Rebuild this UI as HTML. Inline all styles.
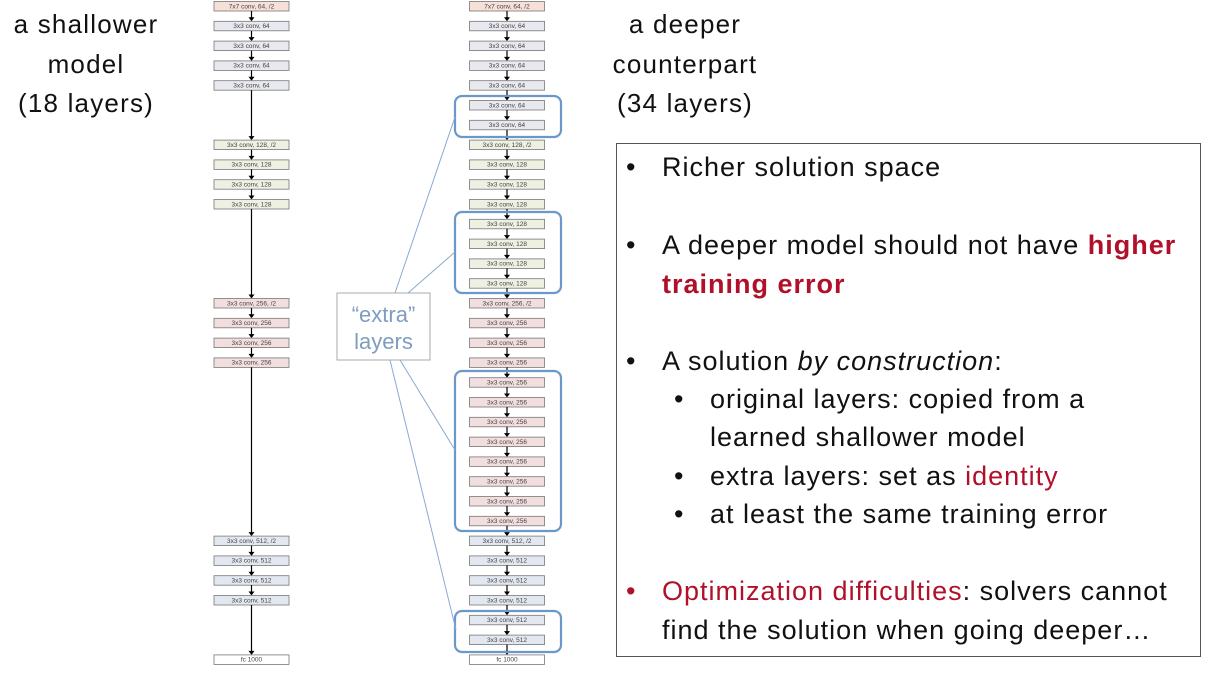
<!DOCTYPE html>
<html><head><meta charset="utf-8"><style>
body{margin:0;width:1226px;height:676px;background:#fff;overflow:hidden;position:relative;font-family:"Liberation Sans",sans-serif}
.t{position:absolute;font-size:26px;color:#111;white-space:nowrap;text-align:center;letter-spacing:1.2px}
.b{position:absolute;left:616px;top:143px;width:585px;height:514px;border:1px solid #555;box-sizing:border-box}
.l{position:absolute;font-size:27px;letter-spacing:1px;color:#111;white-space:nowrap;line-height:30px}
.red{color:#b0102a}
</style></head><body>
<div class="t" style="left:0;width:172px;top:5px;line-height:39.5px">a shallower<br>model<br>(18 layers)</div>
<div class="t" style="left:590px;width:190px;top:5px;line-height:39.5px">a deeper<br>counterpart<br>(34 layers)</div>
<svg width="1226" height="676" style="position:absolute;left:0;top:0" id="s"></svg>
<div class="b"></div>
<div class="l" style="left:626px;top:152px">•</div><div class="l" style="left:662px;top:152px">Richer solution space</div>
<div class="l" style="left:626px;top:230px">•</div><div class="l" style="left:662px;top:230px">A deeper model should not have <b class="red">higher</b></div>
<div class="l" style="left:662px;top:269px"><b class="red">training error</b></div>
<div class="l" style="left:626px;top:346px">•</div><div class="l" style="left:662px;top:346px">A solution <i>by construction</i>:</div>
<div class="l" style="left:674px;top:384px">•</div><div class="l" style="left:710px;top:384px">original layers: copied from a</div>
<div class="l" style="left:710px;top:422px">learned shallower model</div>
<div class="l" style="left:674px;top:461px">•</div><div class="l" style="left:710px;top:461px">extra layers: set as <span class="red">identity</span></div>
<div class="l" style="left:674px;top:499px">•</div><div class="l" style="left:710px;top:499px">at least the same training error</div>
<div class="l red" style="left:626px;top:576px">•</div><div class="l" style="left:662px;top:576px"><span class="red">Optimization difficulties</span>: solvers cannot</div>
<div class="l" style="left:662px;top:615px">find the solution when going deeper…</div>
<script>
const s=document.getElementById('s');let h='';
const lab=[],col=[];
lab.push('7x7 conv, 64, /2');col.push('#f7e0d8');
for(let i=0;i<6;i++){lab.push('3x3 conv, 64');col.push('#e8e9ef');}
lab.push('3x3 conv, 128, /2');col.push('#eef0e2');
for(let i=0;i<7;i++){lab.push('3x3 conv, 128');col.push('#eef0e2');}
lab.push('3x3 conv, 256, /2');col.push('#f2dede');
for(let i=0;i<11;i++){lab.push('3x3 conv, 256');col.push('#f2dede');}
lab.push('3x3 conv, 512, /2');col.push('#e3e8f0');
for(let i=0;i<5;i++){lab.push('3x3 conv, 512');col.push('#e3e8f0');}
lab.push('fc 1000');col.push('#fff');
const Y=i=>6+19.8*i;
function col_(x,idx){
 for(let k=0;k<idx.length;k++){const i=idx[k],y=Y(i);
  h+=`<rect x="${x}" y="${y-4.5}" width="75" height="9.5" fill="${col[i]}" stroke="#777" stroke-width="0.8"/>`;
  h+=`<text x="${x+37.5}" y="${y+2.3}" font-size="6.5" text-anchor="middle" fill="#444" font-family="Liberation Sans">${lab[i]}</text>`;
  if(k<idx.length-1){const y2=Y(idx[k+1])-4.5;
   h+=`<line x1="${x+37.5}" y1="${y+5}" x2="${x+37.5}" y2="${y2-3}" stroke="#000" stroke-width="1.2"/>`;
   h+=`<polygon points="${x+34.5},${y2-4} ${x+40.5},${y2-4} ${x+37.5},${y2}" fill="#000"/>`;}
 }}
col_(214,[0,1,2,3,4,7,8,9,10,15,16,17,18,27,28,29,30,33]);
col_(469.5,[...Array(34).keys()]);
[[96,137],[212,293],[371,531],[611,652]].forEach(([a,b])=>{h+=`<rect x="455" y="${a}" width="106" height="${b-a}" rx="7" fill="none" stroke="#6a98c8" stroke-width="2.2"/>`;});
[[395,293,455,117],[408,293,455,252],[400,360,455,450],[390,360,456,630]].forEach(l=>{h+=`<line x1="${l[0]}" y1="${l[1]}" x2="${l[2]}" y2="${l[3]}" stroke="#8aaad0" stroke-width="1"/>`;});
h+=`<rect x="337" y="293" width="93" height="67" fill="#fff" stroke="#aaa" stroke-width="1"/>`;
h+=`<text x="383.5" y="322" font-size="22" text-anchor="middle" fill="#7f9cc0" font-family="Liberation Sans">“extra”</text>`;
h+=`<text x="383.5" y="349" font-size="22" text-anchor="middle" fill="#7f9cc0" font-family="Liberation Sans">layers</text>`;
s.innerHTML=h;
</script>
</body></html>
